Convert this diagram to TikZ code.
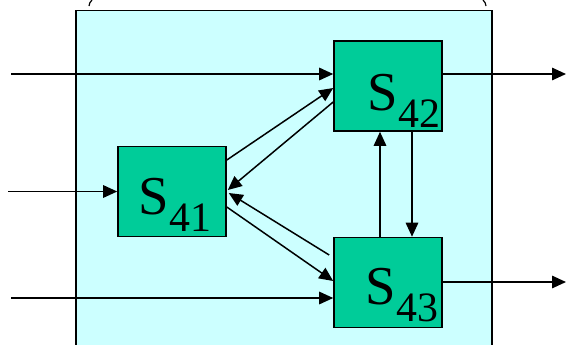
\documentclass[tikz,border=0pt]{standalone}
\usepackage{fontspec}
\setmainfont{Liberation Serif}
\usetikzlibrary{arrows,arrows.meta}
\usetikzlibrary{calc}
\definecolor{areacol}{HTML}{CCFFFF}
\definecolor{blockcol}{HTML}{00CC99}
\tikzset{>={Triangle[length=14bp,width=12.5bp]}}
\tikzstyle{sig} = [line width = 1.5bp, color = black]
\tikzstyle{block} = [draw, line width = 1.6bp, fill = blockcol,
					minimum width = 108bp, minimum height = 90bp, inner sep = 0]
\tikzstyle{lbl} = [anchor = base west, inner sep = 0]
\newcommand{\sname}[1]{{\fontsize{55}{60}\selectfont S\raisebox{-17bp}{\fontsize{42}{46}\selectfont #1}}}

\begin{document}
\begin{tikzpicture}[x=1bp,y=-1bp]
  \useasboundingbox (0,0) rectangle (566,344);
  
  % AREA
  \fill[areacol] (76,10.5) rectangle (492,360);
  \draw[line width=1.6bp] (76,360) -- (76,10.5) -- (492,10.5) -- (492,360);
  \draw[line width=1.2bp] (92,0) to[bend right=20] (89,6);
  \draw[line width=1.2bp] (483,0) to[bend left=20] (486,6);
  
  % BLOCKS
  \node[block] (s41) at (172,191.5) {};
  \node[block] (s42) at (388,86) {};
  \node[block] (s43) at (388,282.5) {};
  \node[lbl] (l41) at ($(s41.center)+(-33.5,22.5)$) {\sname{41}};
  \node[lbl] (l42) at ($(s42.center)+(-20.5,24)$) {\sname{42}};
  \node[lbl] (l43) at ($(s43.center)+(-22.5,21.5)$) {\sname{43}};
  
  % INPUTS AND OUTPUTS
  \coordinate (in42) at (11,74);
  \coordinate (in41) at (8,191.5);
  \coordinate (in43) at (11,298);
  \coordinate (out42) at (566,74);
  \coordinate (out43) at (566,282);
  \draw[sig,->] (in42) -- (in42 -| s42.west);
  \draw[sig,->] (in41) -- (in41 -| s41.west);
  \draw[sig,->] (in43) -- (in43 -| s43.west);
  \draw[sig,->] (out42 -| s42.east) -- (out42);
  \draw[sig,->] (out43 -| s43.east) -- (out43);
  
  % LINKS
  \draw[sig,->] ($(s41.east)+(0,-31.5)$) -- ($(s42.west)+(0,2)$);
  \draw[sig,->] ($(s42.west)+(0,16)$) -- ($(s41.east)+(1,-1.5)$);
  \draw[sig,->] ($(s43.west)+(-4,-27.5)$) -- ($(s41.east)+(2,1.5)$);
  \draw[sig,->] ($(s41.east)+(0,15.5)$) -- ($(s43.west)+(0,-1.5)$);
  \draw[sig,->] ($(s43.north)+(-8,0)$) -- ($(s42.south)+(-8,0)$);
  \draw[sig,->] ($(s42.south)+(24,0)$) -- ($(s43.north)+(24,0)$);
  
\end{tikzpicture}
\end{document}
